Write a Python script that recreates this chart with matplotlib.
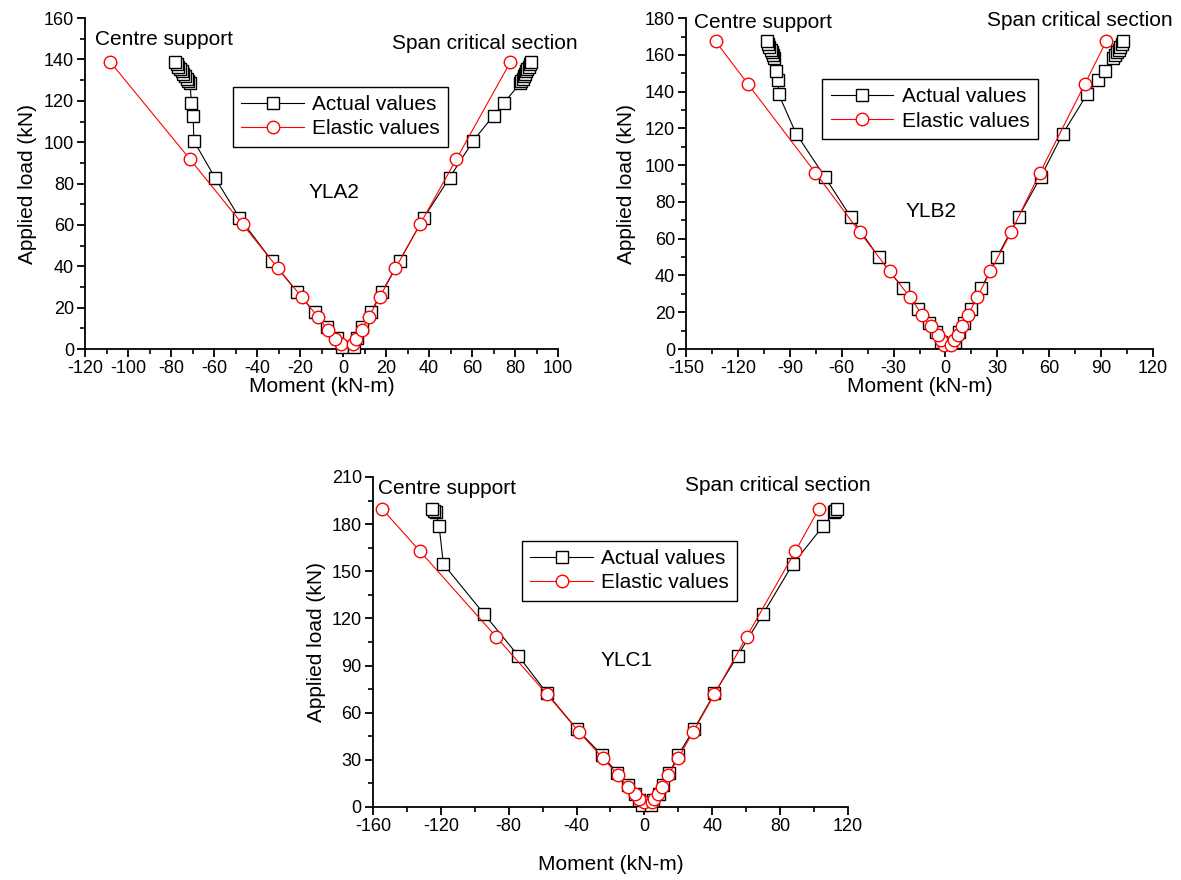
import matplotlib
matplotlib.use("Agg")
import matplotlib.pyplot as plt
from matplotlib.ticker import MultipleLocator

plt.rcParams['font.family'] = ['Liberation Sans', 'DejaVu Sans']
plt.rcParams['axes.unicode_minus'] = False

# YLA2
a_act_load = [1.1, 5.2, 10.8, 17.7, 27.7, 42.7, 63.5, 82.9, 100.6, 112.9, 119.2,
              128.5, 129.6, 130.8, 131.9, 133.0, 134.2, 135.3, 136.4, 137.6, 138.7]
a_act_sup = [-0.5, -2.8, -7.5, -13.2, -21.5, -33.1, -48.2, -59.6, -69.4, -69.7, -70.5,
             -71.2, -72.0, -72.8, -73.5, -74.3, -75.1, -75.9, -76.6, -77.4, -78.2]
a_act_span = [5.0, 6.5, 8.9, 12.8, 18.2, 26.3, 37.6, 49.6, 60.5, 70.0, 75.0,
              82.4, 83.0, 83.5, 84.1, 84.6, 85.2, 85.7, 86.3, 86.8, 87.4]
a_ela_load = [2.3, 4.8, 9.2, 15.6, 25.0, 39.0, 60.3, 91.8, 138.7]
a_ela_sup = [-0.9, -3.6, -7.0, -11.8, -19.1, -30.2, -46.7, -71.2, -108.2]
a_ela_span = [4.7, 6.2, 8.6, 12.0, 17.0, 24.4, 35.8, 52.7, 77.8]

# YLB2
b_act_load = [3.8, 9.2, 14.3, 21.9, 33.1, 49.9, 72.0, 93.7, 117.2, 138.5, 146.6, 151.5,
              158.4, 159.9, 161.4, 162.9, 164.4, 165.9, 167.4]
b_act_sup = [-2.3, -5.7, -9.6, -15.7, -24.7, -38.6, -54.9, -69.8, -86.4, -96.4, -96.7, -97.9,
             -98.9, -99.6, -100.4, -101.1, -101.8, -102.6, -103.3]
b_act_span = [5.4, 8.0, 10.7, 14.9, 20.7, 29.8, 42.3, 55.1, 67.9, 81.8, 88.0, 92.0,
              97.1, 98.1, 99.1, 100.1, 101.0, 101.9, 102.9]
b_ela_load = [2.4, 4.7, 7.8, 12.3, 18.6, 28.2, 42.3, 63.5, 96.0, 144.0, 167.4]
b_ela_sup = [-0.8, -2.3, -4.6, -8.4, -13.4, -20.5, -32.3, -49.5, -75.3, -114.1, -132.9]
b_ela_span = [3.4, 5.0, 7.3, 9.6, 13.0, 18.4, 26.0, 37.9, 54.7, 80.5, 92.9]

# YLC1
c_act_load = [1.4, 4.6, 8.4, 13.7, 21.5, 33.2, 49.5, 72.3, 96.3, 122.8, 154.6, 178.9,
              187.5, 188.5, 189.5]
c_act_sup = [-1.2, -3.3, -5.4, -9.7, -16.0, -25.1, -39.8, -57.4, -74.4, -94.5, -118.5, -121.0,
             -123.0, -124.2, -125.3]
c_act_span = [4.1, 5.2, 8.4, 10.9, 14.7, 20.0, 29.2, 41.3, 55.0, 69.9, 87.5, 105.5,
              111.9, 112.6, 113.4]
c_ela_load = [2.9, 5.0, 8.4, 13.0, 20.4, 31.1, 47.4, 71.7, 108.4, 162.8, 189.5]
c_ela_sup = [-0.5, -3.3, -5.8, -9.7, -15.6, -24.5, -38.3, -57.4, -87.5, -132.3, -154.5]
c_ela_span = [4.3, 5.8, 8.0, 10.5, 14.1, 20.0, 28.5, 41.3, 60.3, 89.0, 102.8]

fig = plt.figure(figsize=(11.81, 8.8), dpi=100)

panels = [
    dict(rect=[0.072, 0.6034, 0.4005, 0.376], name="YLA2",
         act=(a_act_load, a_act_sup, a_act_span), ela=(a_ela_load, a_ela_sup, a_ela_span),
         xlim=(-120, 100), ylim=(0, 160), xmaj=20, ymaj=20,
         leg=(0.313, 0.792), name_pos=(0.526, 0.474),
         cs=(0.021, 0.934), sc=(1.042, 0.924), xpad=0, ypad=5),
    dict(rect=[0.5809, 0.6034, 0.3954, 0.376], name="YLB2",
         act=(b_act_load, b_act_sup, b_act_span), ela=(b_ela_load, b_ela_sup, b_ela_span),
         xlim=(-150, 120), ylim=(0, 180), xmaj=30, ymaj=20,
         leg=(0.292, 0.816), name_pos=(0.524, 0.415),
         cs=(0.017, 0.988), sc=(1.041, 0.994), xpad=0, ypad=6),
    dict(rect=[0.3158, 0.0830, 0.4022, 0.375], name="YLC1",
         act=(c_act_load, c_act_sup, c_act_span), ela=(c_ela_load, c_ela_sup, c_ela_span),
         xlim=(-160, 120), ylim=(0, 210), xmaj=40, ymaj=30,
         leg=(0.314, 0.807), name_pos=(0.534, 0.445),
         cs=(0.011, 0.964), sc=(1.048, 0.973), xpad=14, ypad=4),
]

for p in panels:
    ax = fig.add_axes(p["rect"])
    load, sup, span = p["act"]
    ax.plot(sup, load, color='black', lw=0.8, marker='s', ms=8, mfc='white',
            mec='black', mew=1.0, label='Actual values', clip_on=False, zorder=3)
    ax.plot(span, load, color='black', lw=0.8, marker='s', ms=8, mfc='white',
            mec='black', mew=1.0, clip_on=False, zorder=3)
    load, sup, span = p["ela"]
    ax.plot(sup, load, color='red', lw=0.8, marker='o', ms=9, mfc='white',
            mec='red', mew=1.0, label='Elastic values', clip_on=False, zorder=4)
    ax.plot(span, load, color='red', lw=0.8, marker='o', ms=9, mfc='white',
            mec='red', mew=1.0, clip_on=False, zorder=4)

    ax.set_xlim(*p["xlim"])
    ax.set_ylim(*p["ylim"])
    ax.xaxis.set_major_locator(MultipleLocator(p["xmaj"]))
    ax.xaxis.set_minor_locator(MultipleLocator(p["xmaj"] / 2))
    ax.yaxis.set_major_locator(MultipleLocator(p["ymaj"]))
    ax.yaxis.set_minor_locator(MultipleLocator(p["ymaj"] / 2))
    ax.spines['top'].set_visible(False)
    ax.spines['right'].set_visible(False)
    ax.spines['left'].set_linewidth(1.3)
    ax.spines['bottom'].set_linewidth(1.3)
    ax.tick_params(which='major', direction='out', length=6, width=1.3,
                   labelsize=13, pad=2)
    ax.tick_params(which='minor', direction='out', length=3.5, width=1.2)
    ax.set_xlabel('Moment (kN-m)', fontsize=15, labelpad=p["xpad"])
    ax.set_ylabel('Applied load (kN)', fontsize=15, labelpad=p["ypad"])

    ax.text(p["cs"][0], p["cs"][1], 'Centre support', transform=ax.transAxes,
            fontsize=15, ha='left', va='center')
    ax.text(p["sc"][0], p["sc"][1], 'Span critical section', transform=ax.transAxes,
            fontsize=15, ha='right', va='center')
    ax.text(p["name_pos"][0], p["name_pos"][1], p["name"], transform=ax.transAxes,
            fontsize=15, ha='center', va='center')

    leg = ax.legend(loc='upper left', bbox_to_anchor=p["leg"], borderaxespad=0,
                    fontsize=15, fancybox=False, framealpha=1, edgecolor='black',
                    handlelength=3.0, handletextpad=0.4, borderpad=0.4,
                    labelspacing=0.25)
    leg.get_frame().set_linewidth(1.0)

fig.savefig('out.png', dpi=100)
